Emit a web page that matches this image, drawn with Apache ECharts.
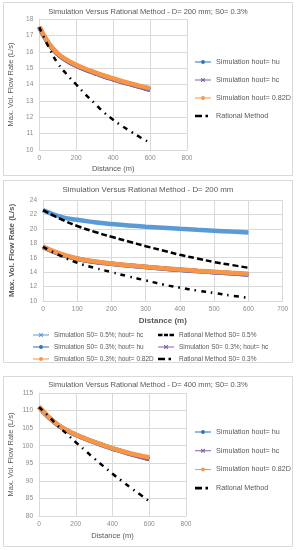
<!DOCTYPE html>
<html><head><meta charset="utf-8">
<script src="https://cdn.jsdelivr.net/npm/echarts@6/dist/echarts.min.js"></script>
<style>html,body{margin:0;padding:0;background:#fff}#c{width:296px;height:550px}</style>
</head><body><div id="c"></div>
<script>
// ---- data ----
var distances = [0,50,100,150,200,250,300,350,400,450,500,550,600];
// Panel 1 : D=200 mm, S0=0.3%
var p1Hu   = [17.5,16.5,15.85,15.45,15.15,14.91,14.7,14.5,14.32,14.15,14.0,13.84,13.68];
var p1Hc   = [17.5,16.5,15.85,15.45,15.15,14.91,14.7,14.5,14.32,14.15,14.0,13.84,13.68];
var p1D082 = [17.55,16.55,15.9,15.5,15.2,14.96,14.75,14.55,14.37,14.2,14.05,13.9,13.77];
var p1Rat  = [17.5,16.3,15.3,14.6,14.0,13.4,12.85,12.3,11.85,11.45,11.1,10.75,10.45];
// Panel 2 : D=200 mm
var p2S05Hc  = [22.6,21.7,21.25,20.93,20.68,20.48,20.3,20.15,20.0,19.87,19.75,19.62,19.5];
var p2RatS05 = [22.6,21.4,20.4,19.6,18.9,18.25,17.6,17.0,16.4,15.9,15.4,15.0,14.6];
var p2S03Hu  = p1Hu, p2S03Hc = p1Hc, p2S03D082 = p1D082, p2RatS03 = p1Rat;
// Panel 3 : D=400 mm, S0=0.3%
var p3Hu   = [111,108.2,106.0,104.4,103.1,102.0,101.0,100.1,99.2,98.4,97.6,96.9,96.2];
var p3Hc   = [111,108.2,106.0,104.4,103.1,102.0,101.0,100.1,99.2,98.4,97.6,96.9,96.2];
var p3D082 = [111.1,108.3,106.1,104.5,103.2,102.1,101.1,100.2,99.3,98.5,97.8,97.2,96.7];
var p3Rat  = [111,108.5,105.8,103.4,101.0,98.7,96.4,94.2,92.0,90.0,88.0,86.1,84.2];

var titles = ['Simulation Versus Rational Method - D= 200 mm; S0= 0.3%',
              'Simulation Versus Rational Method - D= 200 mm',
              'Simulation Versus Rational Method - D= 400 mm; S0= 0.3%'];
var yName = 'Max. Vol. Flow Rate (L/s)';
var xName = 'Distance (m)';

function pairs(v){ return distances.map(function(d,i){ return [d, v[i]]; }); }

var FONT = '"Liberation Sans", Arial, sans-serif';
var TXT = '#595959', LBL = '#8a8a8a', GRID = '#d9d9d9';
var BLUE = '#2E75B6', LBLUE = '#5B9BD5', PURPLE = '#8064A2', ORANGE = '#F79646';

function simSeries(name, data, color, xi){
  return {name:name, type:'line', xAxisIndex:xi, yAxisIndex:xi, data:pairs(data), smooth:true,
    symbol:'none', lineStyle:{color:color, width:4.5}, itemStyle:{color:color}, z:3};
}
function ratSeries(name, data, xi, dash){
  return {name:name, type:'line', xAxisIndex:xi, yAxisIndex:xi, data:pairs(data), smooth:true,
    symbol:'none', lineStyle:{color:'#000', width:2.5, type:dash}, itemStyle:{color:'#000'}, z:5};
}
var DASHDOT = [5,5,1.5,5];
var DASH = [6,3];

// legend icons (16 x 4 boxes; tiny corner anchors fix the bounding box)
var ANCH = 'M0,0L0.01,0L0,0.01Z M16,4L15.99,4L16,3.99Z ';
var ICON_DOT = 'path://' + ANCH + 'M0,1.5L16,1.5L16,2.5L0,2.5Z M10,2A2,2 0 1 1 6,2A2,2 0 1 1 10,2Z';
var ICON_X = 'path://' + ANCH + 'M0,1.55L16,1.55L16,2.45L0,2.45Z M6,0L6.7,0L10,3.3L10,4L9.3,4L6,0.7Z M10,0L10,0.7L6.7,4L6,4L6,3.3L9.3,0Z';
var ICON_DD = 'path://' + ANCH + 'M0,0.7L7,0.7L7,3.3L0,3.3Z M10.5,0.7L13,0.7L13,3.3L10.5,3.3Z';
var ICON_DASH = 'path://' + ANCH + 'M0,0.7L4.5,0.7L4.5,3.3L0,3.3Z M6,0.7L10,0.7L10,3.3L6,3.3Z M11.5,0.7L16,0.7L16,3.3L11.5,3.3Z';

var grids = [
  {left:39.3, top:19, width:147.7, height:131},
  {left:42.7, top:200, width:240, height:101},
  {left:39, top:393, width:147, height:123}
];
var xCfg = [{max:800, interval:200, gap:15, bold:'normal'},{max:700, interval:100, gap:16, bold:'bold'},{max:800, interval:200, gap:16, bold:'normal'}];
var yCfg = [{min:10,max:18,interval:1,gap:24,bold:'normal'},{min:10,max:24,interval:2,gap:27,bold:'bold'},{min:80,max:115,interval:5,gap:24,bold:'normal'}];

var xAxes = xCfg.map(function(c,i){ return {type:'value', gridIndex:i, min:0, max:c.max, interval:c.interval,
  name:xName, nameLocation:'middle', nameGap:c.gap, nameTextStyle:{color:TXT, fontSize:i==1?8:7.5, fontWeight:c.bold, fontFamily:FONT},
  axisLine:{show:true, lineStyle:{color:GRID}}, axisTick:{show:false},
  axisLabel:{color:LBL, fontSize:6.5, fontFamily:FONT, margin:5},
  splitLine:{show:true, lineStyle:{color:GRID, width:1}}}; });
var yAxes = yCfg.map(function(c,i){ return {type:'value', gridIndex:i, min:c.min, max:c.max, interval:c.interval,
  name:yName, nameLocation:'middle', nameGap:c.gap, nameTextStyle:{color:TXT, fontSize:i==1?8:7.5, fontWeight:c.bold, fontFamily:FONT},
  axisLine:{show:true, lineStyle:{color:GRID}}, axisTick:{show:false},
  axisLabel:{color:LBL, fontSize:6.5, fontFamily:FONT, margin:6},
  splitLine:{show:true, lineStyle:{color:GRID, width:1}}}; });

var series = [
  simSeries('Simulation hout= hu', p1Hu, BLUE, 0),
  simSeries('Simulation hout= hc', p1Hc, PURPLE, 0),
  simSeries('Simulation hout= 0.82D', p1D082, ORANGE, 0),
  ratSeries('Rational Method', p1Rat, 0, DASHDOT),

  simSeries('Simulation S0= 0.5%; hout= hc', p2S05Hc, LBLUE, 1),
  simSeries('Simulation S0= 0.3%; hout= hu', p2S03Hu, BLUE, 1),
  simSeries('Simulation S0= 0.3%; hout= hc', p2S03Hc, PURPLE, 1),
  simSeries('Simulation S0= 0.3%; hout= 0.82D', p2S03D082, ORANGE, 1),
  ratSeries('Rational Method S0= 0.5%', p2RatS05, 1, DASH),
  ratSeries('Rational Method S0= 0.3%', p2RatS03, 1, DASHDOT),

  simSeries('Simulation hout= hu ', p3Hu, BLUE, 2),
  simSeries('Simulation hout= hc ', p3Hc, PURPLE, 2),
  simSeries('Simulation hout= 0.82D ', p3D082, ORANGE, 2),
  ratSeries('Rational Method ', p3Rat, 2, DASHDOT)
];

function legText(sz, lh){ return {color:TXT, fontSize:sz, fontFamily:FONT, lineHeight:lh}; }
function legend(left, top, gap, sz, lh, items){
  return {orient:'vertical', left:left, top:top, padding:0, itemWidth:16, itemHeight:4, itemGap:gap,
    textStyle:legText(sz, lh), data:items.map(function(it){ return {name:it[0], icon:it[1]}; })};
}
var legends = [
  legend(195, 57, 8, 7.2, 10, [['Simulation hout= hu',ICON_DOT],['Simulation hout= hc',ICON_X],['Simulation hout= 0.82D',ICON_DOT],['Rational Method',ICON_DD]]),
  legend(33, 330.5, 3, 6.5, 9, [['Simulation S0= 0.5%; hout= hc',ICON_X],['Simulation S0= 0.3%; hout= hu',ICON_DOT],['Simulation S0= 0.3%; hout= 0.82D',ICON_DOT]]),
  legend(158, 330.5, 3, 6.5, 9, [['Rational Method S0= 0.5%',ICON_DASH],['Simulation S0= 0.3%; hout= hc',ICON_X],['Rational Method S0= 0.3%',ICON_DD]]),
  legend(195, 427, 8.7, 7.2, 10, [['Simulation hout= hu ',ICON_DOT],['Simulation hout= hc ',ICON_X],['Simulation hout= 0.82D ',ICON_DOT],['Rational Method ',ICON_DD]])
];

var titleCfg = [{top:8, size:7.5},{top:186, size:7.9},{top:381, size:7.5}].map(function(t,i){
  return {text:titles[i], left:'center', top:t.top, padding:0, textStyle:{color:TXT, fontSize:t.size, fontWeight:'normal', fontFamily:FONT}};
});

var chart = echarts.init(document.getElementById('c'), null, {renderer:'canvas'});
chart.setOption({
  backgroundColor:'#fff',
  animation:false,
  title:titleCfg,
  grid:grids,
  xAxis:xAxes,
  yAxis:yAxes,
  legend:legends,
  series:series,
  graphic:[
    {type:'rect', shape:{x:3.5, y:2.5, width:289, height:173}, style:{fill:'none', stroke:GRID, lineWidth:1}, silent:true, z:-1},
    {type:'rect', shape:{x:3.5, y:180.5, width:289, height:182}, style:{fill:'none', stroke:GRID, lineWidth:1}, silent:true, z:-1},
    {type:'rect', shape:{x:3.5, y:376.5, width:289, height:170}, style:{fill:'none', stroke:GRID, lineWidth:1}, silent:true, z:-1}
  ]
});
</script>
</body></html>
